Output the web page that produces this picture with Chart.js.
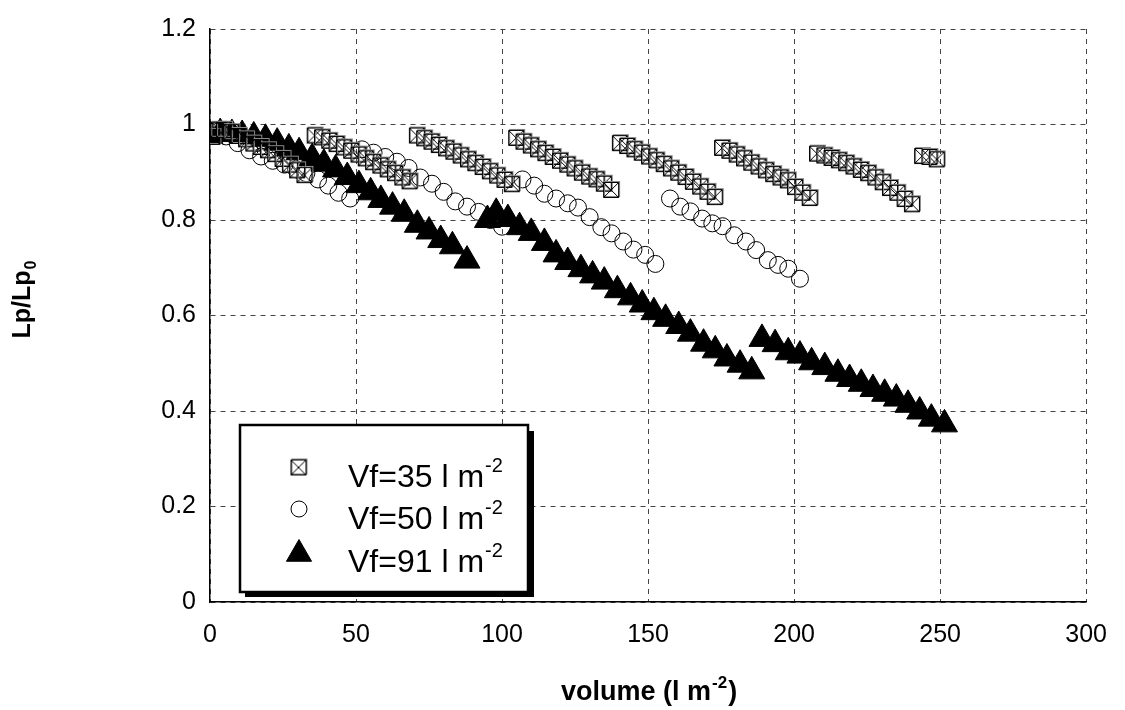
<!DOCTYPE html>
<html>
<head>
<meta charset="utf-8">
<title>Lp/Lp0 vs volume</title>
<script src="https://cdn.jsdelivr.net/npm/chart.js@4.4.0/dist/chart.umd.min.js"></script>
<style>
  html, body { margin: 0; padding: 0; background: #fff; }
  #wrap { width: 1125px; height: 710px; }
</style>
</head>
<body>
<div id="wrap"><canvas id="lp"></canvas></div>
<script>
// Vf = 35 l m-2 (crossed squares), one run of points per filtration cycle
var vf35X = [1, 3, 5, 7.5, 10, 12.5, 15, 17.5, 20, 22.5, 25, 27.5, 30, 32.5,
  36, 38.5, 41, 43.5, 46, 48.5, 51, 53.5, 56, 58.5, 61, 63.5, 66, 68.5,
  71, 73.5, 76, 78.5, 81, 83.5, 86, 88.5, 91, 93.5, 96, 98.5, 101, 103.5,
  105, 107.5, 110, 112.5, 115, 117.5, 120, 122.5, 125, 127.5, 130, 132.5, 135, 137.5,
  140.5, 143, 145.5, 148, 150.5, 153, 155.5, 158, 160.5, 163, 165.5, 168, 170.5, 173,
  175.5, 178, 180.5, 183, 185.5, 188, 190.5, 193, 195.5, 198, 200.5, 203, 205.5,
  208, 210.5, 213, 215.5, 218, 220.5, 223, 225.5, 228, 230.5, 233, 235.5, 238, 240.5,
  244, 246.5, 249];
var vf35Y = [0.975, 0.99, 0.99, 0.985, 0.977, 0.97, 0.961, 0.954, 0.947, 0.939, 0.929, 0.917, 0.905, 0.895,
  0.978, 0.974, 0.967, 0.96, 0.953, 0.946, 0.938, 0.93, 0.922, 0.915, 0.907, 0.899, 0.89, 0.882,
  0.978, 0.972, 0.965, 0.958, 0.951, 0.944, 0.936, 0.928, 0.92, 0.912, 0.903, 0.894, 0.885, 0.876,
  0.973, 0.965, 0.957, 0.949, 0.941, 0.933, 0.925, 0.917, 0.909, 0.9, 0.892, 0.886, 0.877, 0.864,
  0.962, 0.956, 0.949, 0.942, 0.934, 0.926, 0.918, 0.909, 0.9, 0.891, 0.881, 0.871, 0.86, 0.849,
  0.952, 0.946, 0.938, 0.93, 0.921, 0.913, 0.905, 0.897, 0.89, 0.884, 0.87, 0.858, 0.847,
  0.94, 0.936, 0.931, 0.926, 0.92, 0.913, 0.906, 0.899, 0.89, 0.88, 0.868, 0.858, 0.845, 0.834,
  0.935, 0.933, 0.928];

// Vf = 50 l m-2 (open circles)
var vf50X = [1.5, 5.5, 9.5, 13.5, 17.5, 21.5, 25.5, 29.5, 33, 37, 40.5, 44, 48,
  52, 56, 60, 64, 68, 72, 76, 80, 84, 88, 92, 96, 100,
  107, 111, 114.5, 118.5, 122.5, 126, 130, 134, 137.5, 141.5, 145, 149, 152.5,
  157.5, 161, 164.5, 168.5, 172, 175.5, 179.5, 183.5, 187, 191, 194.5, 198, 202];
var vf50Y = [0.985, 0.975, 0.961, 0.946, 0.933, 0.924, 0.916, 0.906, 0.898, 0.885, 0.872, 0.857, 0.845,
  0.948, 0.941, 0.932, 0.922, 0.909, 0.889, 0.876, 0.859, 0.839, 0.828, 0.817, 0.8, 0.786,
  0.885, 0.872, 0.855, 0.845, 0.835, 0.826, 0.806, 0.785, 0.772, 0.755, 0.738, 0.727, 0.708,
  0.845, 0.828, 0.818, 0.803, 0.793, 0.787, 0.768, 0.755, 0.737, 0.716, 0.706, 0.698, 0.677];

// Vf = 91 l m-2 (filled triangles)
var vf91X = [0, 3.5, 7.5, 11, 15, 19, 23, 27, 30.5, 35, 39, 43, 47, 51, 55, 58.5, 62.5, 66.5, 71, 75, 79, 83, 88,
  95, 98, 102, 106, 110, 114.5, 118.5, 122.5, 127, 131, 135, 139.5, 144, 148, 152, 156, 160.5, 164.5, 169, 173, 177, 181.5, 185.5,
  189, 193.5, 198, 202, 206, 210.5, 215, 219, 223, 227, 231, 235, 239, 243, 247, 251.5];
var vf91Y = [0.976, 0.982, 0.98, 0.978, 0.975, 0.97, 0.962, 0.95, 0.942, 0.93, 0.918, 0.906, 0.89, 0.873, 0.858, 0.842, 0.828, 0.813, 0.79, 0.776, 0.758, 0.745, 0.715,
  0.8, 0.815, 0.802, 0.785, 0.773, 0.752, 0.728, 0.712, 0.697, 0.684, 0.671, 0.653, 0.638, 0.623, 0.607, 0.593, 0.578, 0.562, 0.541, 0.527, 0.51, 0.497, 0.483,
  0.551, 0.54, 0.523, 0.516, 0.502, 0.492, 0.478, 0.467, 0.457, 0.446, 0.436, 0.426, 0.413, 0.399, 0.384, 0.372];

var legendLabels = ['Vf=35 l m', 'Vf=50 l m', 'Vf=91 l m'];
var legendSup = '-2';

var FONT = 'Arial, "Liberation Sans", sans-serif';

function pts(xs, ys) {
  return xs.map(function (x, i) { return { x: x, y: ys[i] }; });
}

// crossed square marker
var crossBox = document.createElement('canvas');
crossBox.width = 19;
crossBox.height = 19;
(function () {
  var c = crossBox.getContext('2d');
  c.lineWidth = 1;
  c.strokeStyle = '#888';
  c.strokeRect(2.5, 1.5, 15, 15);
  c.strokeStyle = '#000';
  c.beginPath();
  c.rect(1.5, 2.5, 15, 15);
  c.moveTo(1.5, 2.5); c.lineTo(16.5, 17.5);
  c.moveTo(16.5, 2.5); c.lineTo(1.5, 17.5);
  c.stroke();
})();

var extras = {
  id: 'extras',
  afterDraw: function (chart) {
    var ctx = chart.ctx;
    var area = chart.chartArea;
    ctx.save();
    ctx.fillStyle = '#000';
    ctx.textBaseline = 'alphabetic';

    // x title: volume (l m-2)
    var big = 'bold 27px ' + FONT, small = 'bold 17px ' + FONT;
    ctx.font = big;
    var t1 = 'volume (l m', t3 = ')';
    var w1 = ctx.measureText(t1).width, w3 = ctx.measureText(t3).width;
    ctx.font = small;
    var w2 = ctx.measureText(legendSup).width;
    var sx = (area.left + area.right) / 2 - (w1 + w2 + w3) / 2;
    var by = 700;
    ctx.font = big;
    ctx.fillText(t1, sx, by);
    ctx.font = small;
    ctx.fillText(legendSup, sx + w1 + 1, by - 12);
    ctx.font = big;
    ctx.fillText(t3, sx + w1 + w2 + 2, by);

    // y title: Lp/Lp0
    ctx.save();
    ctx.translate(30, 300);
    ctx.rotate(-Math.PI / 2);
    ctx.font = 'bold 25px ' + FONT;
    var yt = 'Lp/Lp';
    var wy = ctx.measureText(yt).width;
    ctx.font = 'bold 16px ' + FONT;
    var wz = ctx.measureText('0').width;
    var start = -(wy + wz) / 2;
    ctx.font = 'bold 25px ' + FONT;
    ctx.fillText(yt, start, 0);
    ctx.font = 'bold 16px ' + FONT;
    ctx.fillText('0', start + wy + 1, 6);
    ctx.restore();

    // legend box with shadow
    ctx.fillStyle = '#000';
    ctx.fillRect(245, 431, 289, 166);
    ctx.fillStyle = '#fff';
    ctx.fillRect(240, 425, 288, 167);
    ctx.lineWidth = 2.5;
    ctx.strokeStyle = '#000';
    ctx.strokeRect(240, 425, 288, 167);

    var rows = [467, 509, 552];
    ctx.drawImage(crossBox, 299 - 9.5, rows[0] - 9.5);
    ctx.lineWidth = 1;
    ctx.beginPath();
    ctx.arc(299, rows[1], 8, 0, Math.PI * 2);
    ctx.stroke();
    Chart.helpers.drawPoint(ctx, { pointStyle: 'triangle', radius: 14.5, borderWidth: 1, rotation: 0 }, 299, rows[2] + 2);
    ctx.fillStyle = '#000';
    ctx.fill();

    ctx.fillStyle = '#000';
    for (var i = 0; i < legendLabels.length; i++) {
      var base = rows[i] + 20;
      ctx.font = '32px ' + FONT;
      ctx.fillText(legendLabels[i], 348, base);
      var lw = ctx.measureText(legendLabels[i]).width;
      ctx.font = '20px ' + FONT;
      ctx.fillText(legendSup, 348 + lw + 1, base - 15);
    }
    ctx.restore();
  }
};

new Chart(document.getElementById('lp'), {
  type: 'scatter',
  data: {
    datasets: [
      {
        label: legendLabels[0],
        data: pts(vf35X, vf35Y),
        pointStyle: crossBox,
        pointRadius: 9,
        borderColor: '#000',
        backgroundColor: 'rgba(0,0,0,0)'
      },
      {
        label: legendLabels[1],
        data: pts(vf50X, vf50Y),
        pointStyle: 'circle',
        pointRadius: 8.5,
        borderWidth: 1,
        borderColor: '#000',
        backgroundColor: 'rgba(255,255,255,0)'
      },
      {
        label: legendLabels[2],
        data: pts(vf91X, vf91Y),
        pointStyle: 'triangle',
        pointRadius: 15,
        borderWidth: 1,
        borderColor: '#000',
        backgroundColor: '#000'
      }
    ]
  },
  options: {
    responsive: true,
    maintainAspectRatio: false,
    animation: false,
    devicePixelRatio: 1,
    layout: { padding: { top: 24, right: 35, left: 0, bottom: 0 } },
    plugins: {
      legend: { display: false },
      tooltip: { enabled: false }
    },
    scales: {
      x: {
        type: 'linear',
        min: 0,
        max: 300,
        ticks: { stepSize: 50, color: '#000', padding: 18, font: { size: 25, family: FONT } },
        grid: { color: '#444', lineWidth: 1, drawTicks: false },
        border: { display: true, color: '#000', width: 1.5, dash: [5, 5] },
        afterFit: function (s) { s.height = 108; }
      },
      y: {
        min: 0,
        max: 1.2,
        ticks: {
          stepSize: 0.2, color: '#000', padding: 14, font: { size: 25, family: FONT },
          callback: function (v) { return String(Math.round(v * 10) / 10); }
        },
        grid: { color: '#444', lineWidth: 1, drawTicks: false },
        border: { display: true, color: '#000', width: 1.5, dash: [5, 5] },
        afterFit: function (s) { s.width = 210; }
      }
    }
  },
  plugins: [extras]
});
</script>
</body>
</html>
